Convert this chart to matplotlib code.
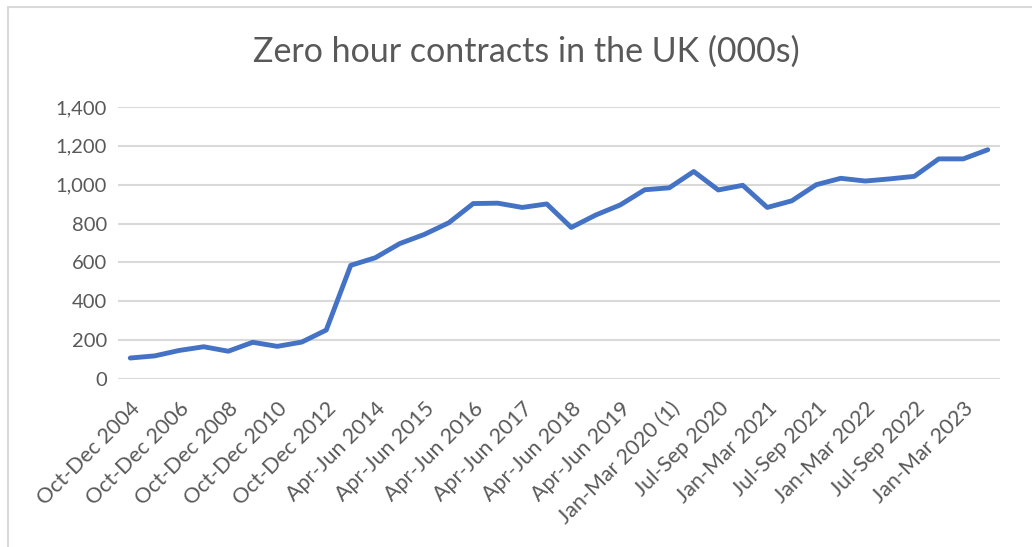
import matplotlib.pyplot as plt
from matplotlib.patches import Rectangle

periods = [
    "Oct-Dec 2004", "Oct-Dec 2005", "Oct-Dec 2006", "Oct-Dec 2007", "Oct-Dec 2008",
    "Oct-Dec 2009", "Oct-Dec 2010", "Oct-Dec 2011", "Oct-Dec 2012", "Oct-Dec 2013",
    "Apr-Jun 2014", "Oct-Dec 2014", "Apr-Jun 2015", "Oct-Dec 2015", "Apr-Jun 2016",
    "Oct-Dec 2016", "Apr-Jun 2017", "Oct-Dec 2017", "Apr-Jun 2018", "Oct-Dec 2018",
    "Apr-Jun 2019", "Oct-Dec 2019", "Jan-Mar 2020 (1)", "Apr-Jun 2020", "Jul-Sep 2020",
    "Oct-Dec 2020", "Jan-Mar 2021", "Apr-Jun 2021", "Jul-Sep 2021", "Oct-Dec 2021",
    "Jan-Mar 2022", "Apr-Jun 2022", "Jul-Sep 2022", "Oct-Dec 2022", "Jan-Mar 2023",
    "Apr-Jun 2023",
]
contracts = [
    108, 119, 147, 166, 143, 189, 168, 190, 252, 585,
    624, 697, 744, 804, 903, 905, 883, 901, 780, 844,
    896, 974, 984, 1068, 973, 997, 883, 917, 1000, 1033,
    1019, 1030, 1043, 1133, 1133, 1180,
]

plt.rcParams['font.family'] = ['Lato', 'DejaVu Sans']
txt = '#595959'

fig = plt.figure(figsize=(10.32, 5.47), dpi=100)
# outer chart frame
fig.patches.append(Rectangle((8 / 1032, -0.1), 1.1, 1 - 7 / 547 + 0.1,
                             transform=fig.transFigure, fill=False,
                             edgecolor='#d9d9d9', linewidth=1.5))

ax = fig.add_axes([118 / 1032, 1 - 379 / 547, 882 / 1032, 272 / 547])
x = list(range(len(periods)))
ax.plot(x, contracts, color='#4472C4', linewidth=3.5, solid_capstyle='round',
        solid_joinstyle='round', zorder=3)

ax.set_xlim(-0.5, len(periods) - 0.5)
ax.set_ylim(0, 1400)
ax.set_yticks(range(0, 1401, 200))
ax.set_yticklabels([f"{v:,}" for v in range(0, 1401, 200)], fontsize=14.5, color=txt)
ax.set_xticks(x[::2])
ax.set_xticklabels(periods[::2], rotation=45, ha='right', rotation_mode='anchor',
                   fontsize=15.5, color=txt)
ax.tick_params(length=0, pad=8)
ax.tick_params(axis='x', pad=14)
ax.grid(axis='y', color='#d9d9d9', linewidth=1.5)
ax.set_axisbelow(True)
for s in ax.spines.values():
    s.set_visible(False)

fig.text(0.51, 0.905, "Zero hour contracts in the UK (000s)", ha='center', va='center',
         fontsize=24.5, color=txt)

fig.savefig('out.png', dpi=100)
